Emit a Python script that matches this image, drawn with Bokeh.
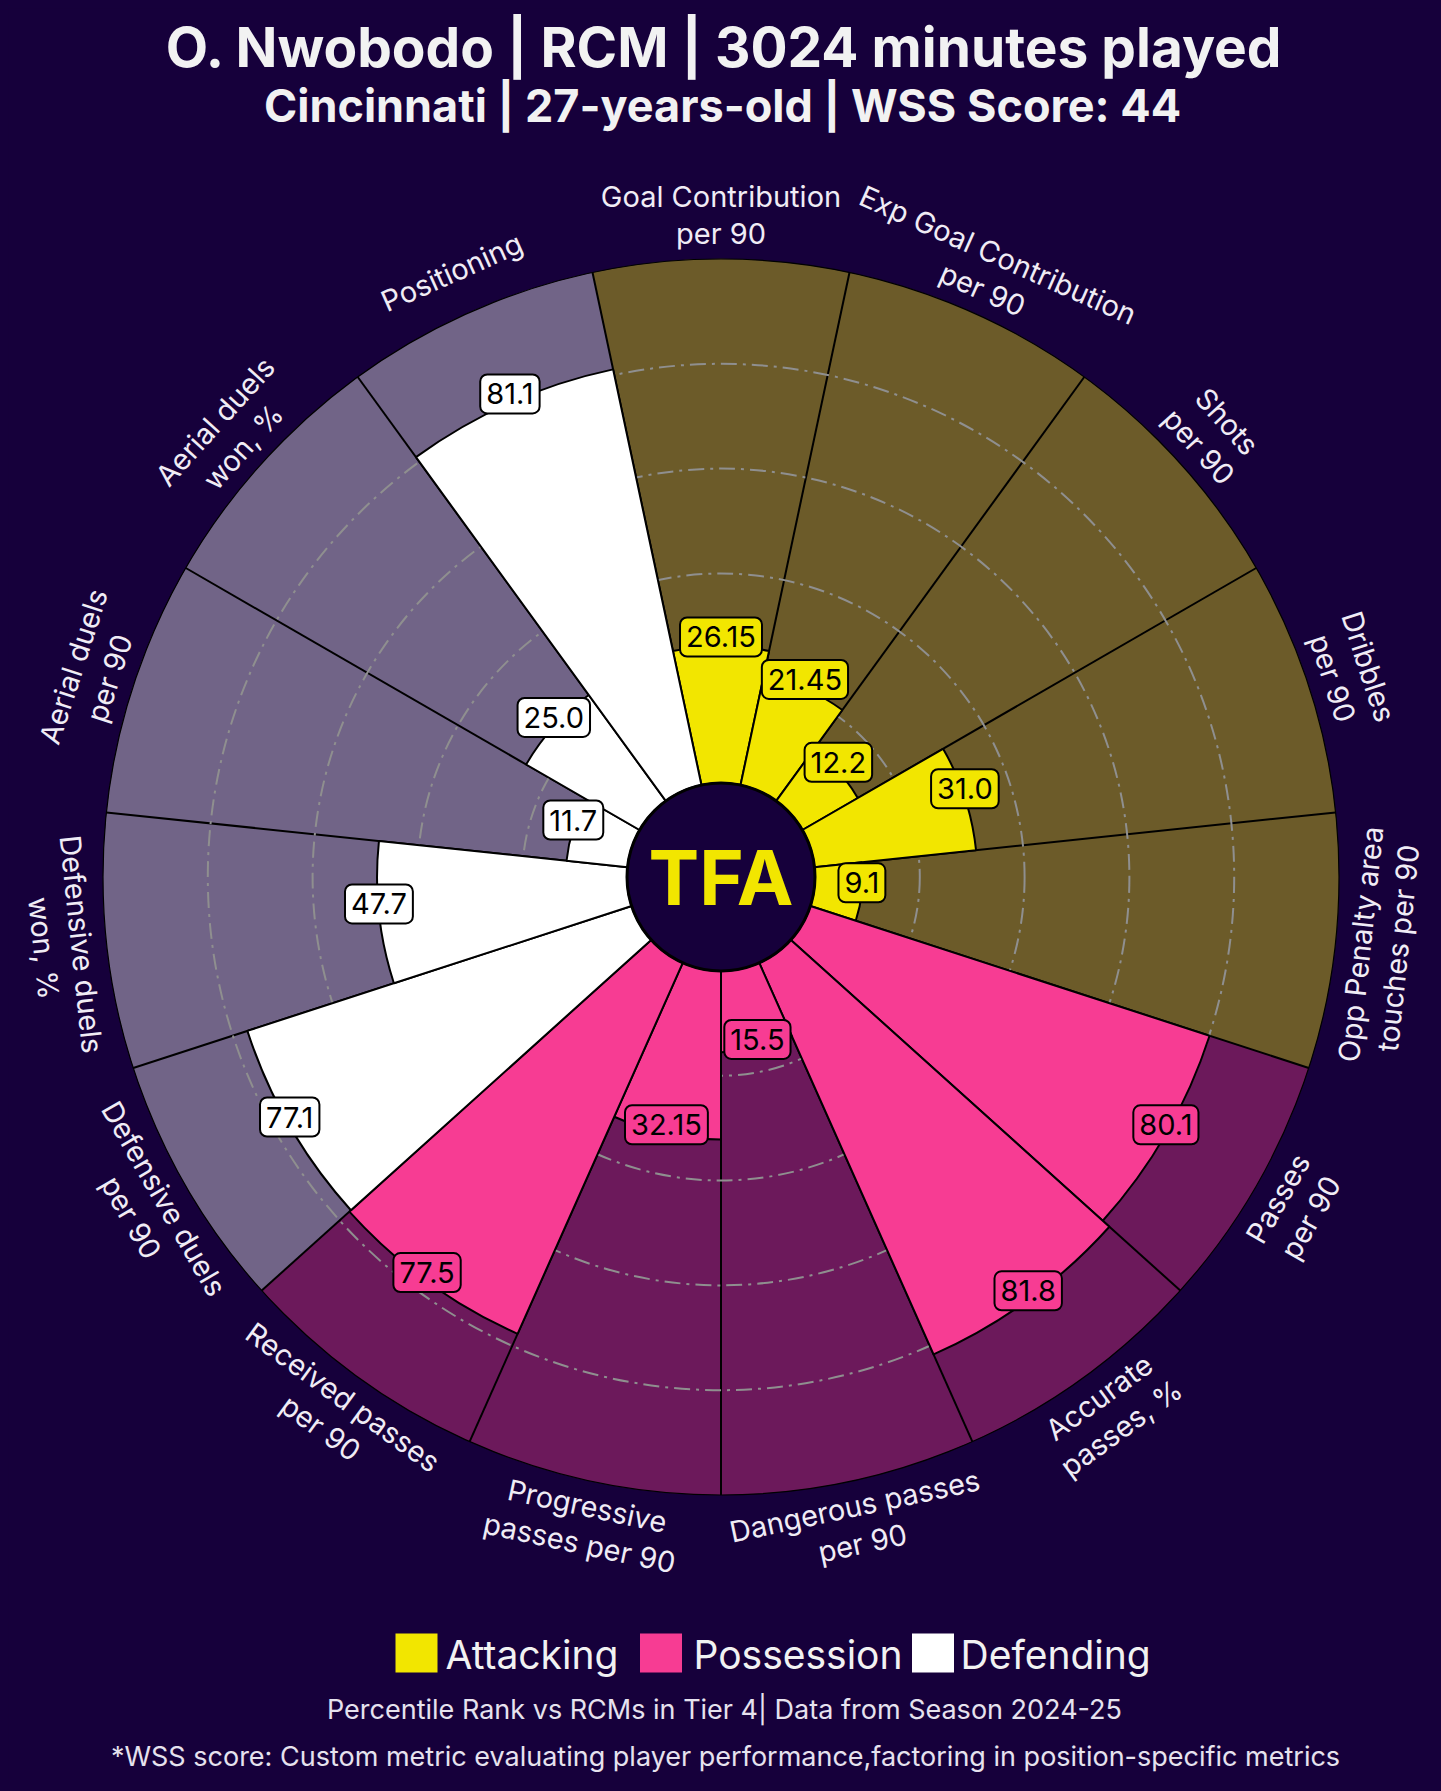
import numpy as np
from bokeh.plotting import figure
from bokeh.models import ColumnDataSource, Range1d
from bokeh.core.properties import value
from bokeh.embed import file_html
from bokeh.resources import INLINE

# ---------------- data ----------------
title_text = "O. Nwobodo | RCM | 3024 minutes played"
subtitle_text = "Cincinnati | 27-years-old | WSS Score: 44"
params = [
    "Goal Contribution\nper 90",
    "Exp Goal Contribution\nper 90",
    "Shots\nper 90",
    "Dribbles\nper 90",
    "Opp Penalty area\ntouches per 90",
    "Passes\nper 90",
    "Accurate\npasses, %",
    "Dangerous passes\nper 90",
    "Progressive\npasses per 90",
    "Received passes\nper 90",
    "Defensive duels\nper 90",
    "Defensive duels\nwon, %",
    "Aerial duels\nper 90",
    "Aerial duels\nwon, %",
    "Positioning",
]
values = [26.15, 21.45, 12.2, 31.0, 9.1,
          80.1, 81.8, 15.5, 32.15, 77.5,
          77.1, 47.7, 11.7, 25.0, 81.1]
groups = ["Attacking"] * 5 + ["Possession"] * 5 + ["Defending"] * 5
group_names = ["Attacking", "Possession", "Defending"]
grid_levels = [20, 40, 60, 80]
footer1 = "Percentile Rank vs RCMs in Tier 4| Data from Season 2024-25"
footer2 = "*WSS score: Custom metric evaluating player performance,factoring in position-specific metrics"

# ---------------- styles ----------------
BG = "#16003b"
fill_col = {"Attacking": "#f2e600", "Possession": "#f73c93", "Defending": "#ffffff"}
bg_col = {"Attacking": "#6c5b29", "Possession": "#6c195b", "Defending": "#716487"}
TXT = "#f0ecf5"

W, H = 1425, 1775
PAGE_H = 1791


def Y(page_y):
    return PAGE_H - page_y


CX, CY = 720.5, Y(876.5)
R_IN, R_OUT = 94.0, 618.0
SCALE = (R_OUT - R_IN) / 100.0
R_LABEL = 662.0


def rad(v):
    return R_IN + np.asarray(v, dtype=float) * SCALE


n = len(params)
step = 360.0 / n
theta = np.array([90.0 - step * i for i in range(n)])
start = np.deg2rad(theta - step / 2)
end = np.deg2rad(theta + step / 2)
th_r = np.deg2rad(theta)

p = figure(width=W, height=H, x_range=Range1d(8, 8 + W), y_range=Range1d(PAGE_H - 8 - H, PAGE_H - 8),
           output_backend="svg", toolbar_location=None, min_border=0,
           x_axis_type=None, y_axis_type=None)
p.grid.visible = False
p.outline_line_color = None
p.background_fill_color = BG
p.border_fill_color = BG

# background slices
src_bg = ColumnDataSource(dict(
    x=[CX] * n, y=[CY] * n, s=start, e=end,
    fill=[bg_col[g] for g in groups],
))
p.annular_wedge(x="x", y="y", inner_radius=R_IN, outer_radius=R_OUT, start_angle="s", end_angle="e",
                fill_color="fill", line_color=None, source=src_bg)
# outer rim
p.circle(x=[CX], y=[CY], radius=R_OUT, fill_color=None, line_color="black", line_width=1.2)

# radial boundaries
p.segment(x0=CX + R_IN * np.cos(start), y0=CY + R_IN * np.sin(start),
          x1=CX + R_OUT * np.cos(start), y1=CY + R_OUT * np.sin(start),
          line_color="black", line_width=2)

# grid circles
p.circle(x=[CX] * len(grid_levels), y=[CY] * len(grid_levels), radius=rad(grid_levels),
         fill_color=None, line_color="#8f8f8f", line_width=2, line_dash="16 6 3 6")

# value bars
src_v = ColumnDataSource(dict(
    x=[CX] * n, y=[CY] * n, s=start, e=end, r=rad(values),
    fill=[fill_col[g] for g in groups],
))
p.annular_wedge(x="x", y="y", inner_radius=R_IN, outer_radius="r", start_angle="s", end_angle="e",
                fill_color="fill", line_color="black", line_width=2, source=src_v)

# centre circle + logo
p.circle(x=[CX], y=[CY], radius=R_IN, fill_color=BG, line_color="black", line_width=3)
p.text(x=[CX], y=[CY], text=["TFA"], text_align="center", text_baseline="middle",
       text_font=value("Inter"), text_font_style="bold", text_font_size="76px", text_color="#f2e600")

# value labels
rv = rad(values)
src_lab = ColumnDataSource(dict(
    x=CX + rv * np.cos(th_r), y=CY + rv * np.sin(th_r) + 9,
    t=[str(v) for v in values],
    fill=[fill_col[g] for g in groups],
))
p.text(x="x", y="y", text="t", source=src_lab, text_align="center", text_baseline="middle",
       text_font=value("Inter"), text_font_size="29px", text_color="black",
       background_fill_color="fill", border_line_color="black", border_line_width=2,
       padding=dict(left=6, right=6, top=9, bottom=9), border_radius=7)

# parameter labels
theta_n = np.mod(theta, 360)
rot = np.where((theta_n > 0) & (theta_n < 180), theta_n - 90, theta_n + 90)
src_p = ColumnDataSource(dict(
    x=CX + R_LABEL * np.cos(th_r), y=CY + R_LABEL * np.sin(th_r),
    t=params, a=np.deg2rad(rot),
))
p.text(x="x", y="y", text="t", angle="a", source=src_p, text_align="center", text_baseline="middle",
       text_font=value("Inter"), text_font_size="29px", text_color=TXT, text_line_height=1.08)

# titles
p.text(x=[724], y=[Y(46)], text=[title_text], text_align="center", text_baseline="middle",
       text_font=value("Inter"), text_font_style="bold", text_font_size="55px", text_color="#f2f2f2")
p.text(x=[722], y=[Y(105)], text=[subtitle_text], text_align="center", text_baseline="middle",
       text_font=value("Inter"), text_font_style="bold", text_font_size="45px", text_color="#f2f2f2")

# legend
leg_sq_x = [416, 660.5, 932.5]
leg_tx_x = [445, 693, 960]
p.rect(x=leg_sq_x, y=[Y(1652.5)] * 3, width=42, height=39,
       fill_color=[fill_col[g] for g in group_names], line_color=None)
p.text(x=leg_tx_x, y=[Y(1654)] * 3, text=group_names, text_align="left", text_baseline="middle",
       text_font=value("Inter"), text_font_size="39px", text_color="#f2f2f2")

# footers
p.text(x=[724], y=[Y(1709)], text=[footer1], text_align="center", text_baseline="middle",
       text_font=value("Inter"), text_font_size="27px", text_color="#e6e2ee")
p.text(x=[725], y=[Y(1756)], text=[footer2], text_align="center", text_baseline="middle",
       text_font=value("Inter"), text_font_size="27px", text_color="#e6e2ee")

html = file_html(p, INLINE, "Pizza chart")
style = "<style>html,body{background:%s !important;} body{margin:8px !important;}</style>" % BG
html = html.replace("</head>", style + "</head>", 1)
open("out.html", "w").write(html)
